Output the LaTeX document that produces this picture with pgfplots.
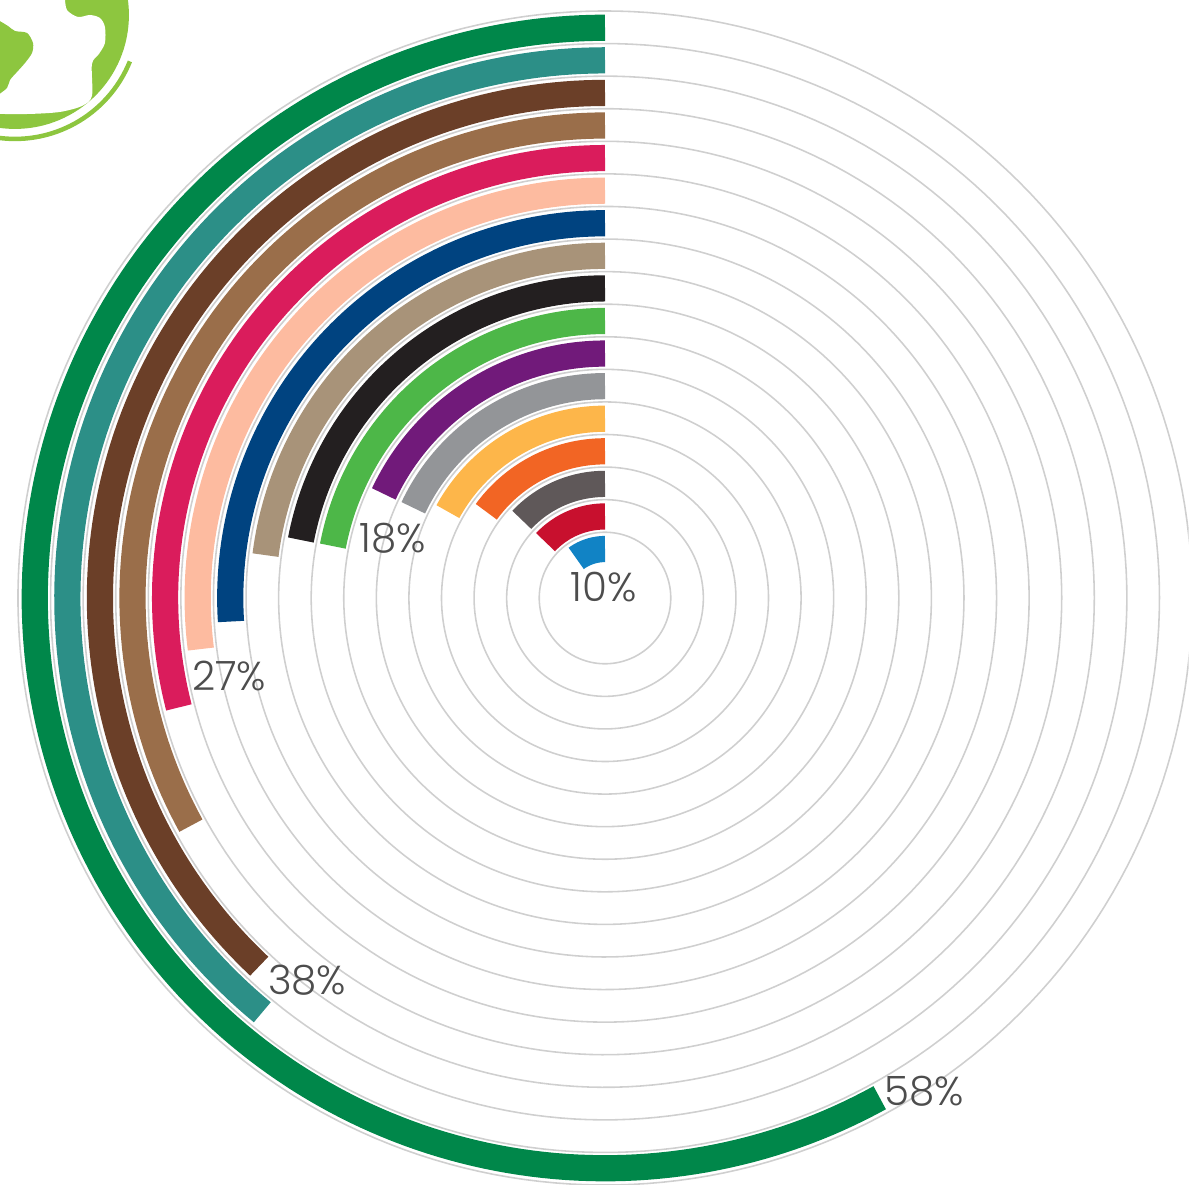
\documentclass[border=0pt]{standalone}
\usepackage{fontspec}
\usepackage{pgfplots}
\pgfplotsset{compat=1.18}
\newfontfamily\lblfont{Poppins}[UprightFont={* Light}]
\definecolor{c0}{HTML}{1183C5}
\definecolor{c1}{HTML}{C8102E}
\definecolor{c2}{HTML}{5F5859}
\definecolor{c3}{HTML}{F26524}
\definecolor{c4}{HTML}{FDB64A}
\definecolor{c5}{HTML}{939598}
\definecolor{c6}{HTML}{711A7A}
\definecolor{c7}{HTML}{4DB748}
\definecolor{c8}{HTML}{231F20}
\definecolor{c9}{HTML}{A89379}
\definecolor{c10}{HTML}{004380}
\definecolor{c11}{HTML}{FDBBA0}
\definecolor{c12}{HTML}{DA1C5C}
\definecolor{c13}{HTML}{9A6E4A}
\definecolor{c14}{HTML}{6B3F28}
\definecolor{c15}{HTML}{2C8F87}
\definecolor{c16}{HTML}{00874A}
\definecolor{ring}{HTML}{CFCFCF}
\definecolor{lbl}{HTML}{4D4D4D}
\definecolor{logo}{HTML}{8DC63F}
\begin{document}
\begin{tikzpicture}
\useasboundingbox (0,0) rectangle (11.89,11.85);
\clip (0,0) rectangle (11.89,11.85);
% logo (decoration)
\begin{scope}[shift={(0cm,11.85cm)}, x=0.01cm, y=-0.01cm]
\fill[logo] (15,15) circle (114);
\fill[white] plot[smooth] coordinates {(65,-2) (67,10) (78,17) (90,15) (100,18) (105,27) (105,43) (99,54) (92,64) (92,96) (82,106) (60,112) (30,114) (-2,114)} -- (-2,-2) -- cycle;
\fill[logo] plot[smooth] coordinates {(-2,20) (8,26) (15,31) (27,33) (33,43) (32,53) (25,63) (17,72) (10,80) (7,88) (-2,95)} -- cycle;
\draw[logo, line width=0.045cm] (15,15) ++(22:124) arc[start angle=22, end angle=100, radius=124];
\end{scope}
\begin{axis}[anchor=origin, at={(6.05cm,5.87cm)}, x=0.01cm, y=0.01cm,
  xmin=-605, xmax=584, ymin=-587, ymax=598, hide axis, clip=true]
% grid rings
\foreach \k in {0,...,16}{
  \edef\temp{\noexpand\addplot[ring, line width=0.45pt, domain=0:360, samples=240] ({(65.8+32.6*\k)*cos(x)}, {(65.8+32.6*\k)*sin(x)});}
  \temp
}
% bars: value in percent, drawn counterclockwise from 12 o'clock
\def\bw{0.262cm}
\addplot[c0,  line width=\bw, domain=0:10, samples=30]  ({-(49+32.6*0)*sin(3.6*x)},  {(49+32.6*0)*cos(3.6*x)});
\addplot[c1,  line width=\bw, domain=0:13, samples=40]  ({-(49+32.6*1)*sin(3.6*x)},  {(49+32.6*1)*cos(3.6*x)});
\addplot[c2,  line width=\bw, domain=0:13, samples=40]  ({-(49+32.6*2)*sin(3.6*x)},  {(49+32.6*2)*cos(3.6*x)});
\addplot[c3,  line width=\bw, domain=0:15, samples=50]  ({-(49+32.6*3)*sin(3.6*x)},  {(49+32.6*3)*cos(3.6*x)});
\addplot[c4,  line width=\bw, domain=0:17, samples=50]  ({-(49+32.6*4)*sin(3.6*x)},  {(49+32.6*4)*cos(3.6*x)});
\addplot[c5,  line width=\bw, domain=0:18, samples=60]  ({-(49+32.6*5)*sin(3.6*x)},  {(49+32.6*5)*cos(3.6*x)});
\addplot[c6,  line width=\bw, domain=0:18, samples=60]  ({-(49+32.6*6)*sin(3.6*x)},  {(49+32.6*6)*cos(3.6*x)});
\addplot[c7,  line width=\bw, domain=0:22, samples=70]  ({-(49+32.6*7)*sin(3.6*x)},  {(49+32.6*7)*cos(3.6*x)});
\addplot[c8,  line width=\bw, domain=0:22, samples=70]  ({-(49+32.6*8)*sin(3.6*x)},  {(49+32.6*8)*cos(3.6*x)});
\addplot[c9,  line width=\bw, domain=0:23, samples=70]  ({-(49+32.6*9)*sin(3.6*x)},  {(49+32.6*9)*cos(3.6*x)});
\addplot[c10, line width=\bw, domain=0:26, samples=80]  ({-(49+32.6*10)*sin(3.6*x)}, {(49+32.6*10)*cos(3.6*x)});
\addplot[c11, line width=\bw, domain=0:27, samples=80]  ({-(49+32.6*11)*sin(3.6*x)}, {(49+32.6*11)*cos(3.6*x)});
\addplot[c12, line width=\bw, domain=0:29, samples=90]  ({-(49+32.6*12)*sin(3.6*x)}, {(49+32.6*12)*cos(3.6*x)});
\addplot[c13, line width=\bw, domain=0:33, samples=100] ({-(49+32.6*13)*sin(3.6*x)}, {(49+32.6*13)*cos(3.6*x)});
\addplot[c14, line width=\bw, domain=0:38, samples=120] ({-(49+32.6*14)*sin(3.6*x)}, {(49+32.6*14)*cos(3.6*x)});
\addplot[c15, line width=\bw, domain=0:39, samples=120] ({-(49+32.6*15)*sin(3.6*x)}, {(49+32.6*15)*cos(3.6*x)});
\addplot[c16, line width=\bw, domain=0:58, samples=180] ({-(49+32.6*16)*sin(3.6*x)}, {(49+32.6*16)*cos(3.6*x)});
% labels
\node[font=\lblfont\fontsize{11.5}{13}\selectfont, text=lbl] at (axis cs:-1,11) {10\%};
\node[font=\lblfont\fontsize{11.5}{13}\selectfont, text=lbl] at (axis cs:-212,60) {18\%};
\node[font=\lblfont\fontsize{11.5}{13}\selectfont, text=lbl] at (axis cs:-376,-78) {27\%};
\node[font=\lblfont\fontsize{11.5}{13}\selectfont, text=lbl] at (axis cs:-298,-382) {38\%};
\node[font=\lblfont\fontsize{11.5}{13}\selectfont, text=lbl] at (axis cs:319,-494) {58\%};
\end{axis}
\end{tikzpicture}
\end{document}
